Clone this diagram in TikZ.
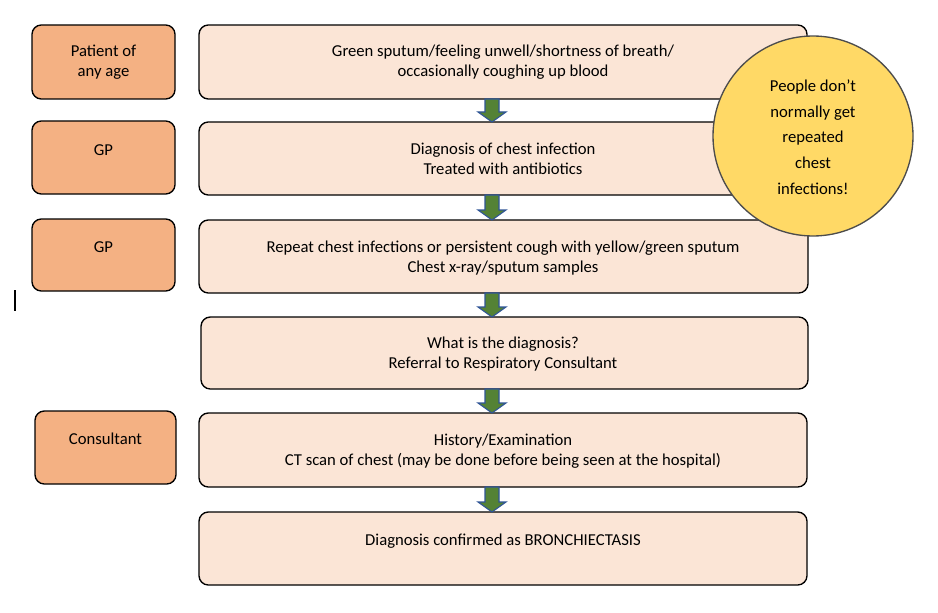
\documentclass[tikz,border=0pt]{standalone}
\usepackage{fontspec}
\setmainfont{Carlito}
\begin{document}
\begin{tikzpicture}[x=0.75pt,y=-0.75pt,
  main/.style={draw=black,line width=1pt,fill=mainfill,rounded corners=7pt},
  side/.style={draw=black,line width=1pt,fill=sidefill,rounded corners=7pt},
  txt/.style={font=\fontsize{12.5}{15}\selectfont,align=center,inner sep=0pt},
  barr/.style={fill=arrgreen,draw=arrblue,line width=0.8pt}]
\definecolor{mainfill}{HTML}{FBE5D6}
\definecolor{sidefill}{HTML}{F4B183}
\definecolor{arrgreen}{HTML}{548235}
\definecolor{arrblue}{HTML}{2F5597}
\definecolor{circfill}{HTML}{FFD966}
\useasboundingbox (0,0) rectangle (938,613);
% side boxes
\draw[side] (32,25) rectangle (175,99);
\node[txt] (s1) at (103.5,62) {Patient of\\any age};
\draw[side] (32,121) rectangle (175,194);
\node[txt] (s2) at (103.5,150) {GP};
\draw[side] (32,219) rectangle (175,291);
\node[txt] (s3) at (103.5,247) {GP};
\draw[side] (35,411) rectangle (176,484);
\node[txt] (s4) at (105.5,439) {Consultant};
% main boxes
\draw[main] (199,25) rectangle (807,99);
\node[txt] (m1) at (503,62.5) {Green sputum/feeling unwell/shortness of breath/\\occasionally coughing up blood};
\draw[main] (199,122) rectangle (807,195);
\node[txt] (m2) at (503,159) {Diagnosis of chest infection\\Treated with antibiotics};
\draw[main] (199,220) rectangle (808,293);
\node[txt] (m3) at (503,258) {Repeat chest infections or persistent cough with yellow/green sputum\\Chest x-ray/sputum samples};
\draw[main] (201,317) rectangle (808,389);
\node[txt] (m4) at (503,354.5) {What is the diagnosis?\\Referral to Respiratory Consultant};
\draw[main] (199,413) rectangle (807,487);
\node[txt] (m5) at (503,451.5) {History/Examination\\CT scan of chest (may be done before being seen at the hospital)};
\draw[main] (199,512) rectangle (807,585);
\node[txt] (m6) at (503,541) {Diagnosis confirmed as BRONCHIECTASIS};
% block arrows
\foreach \a/\b in {99/122,195/220,293/317,389/413,487/512}{
  \draw[barr] (485,\a) -- (499,\a) -- (499,\b-10) -- (506,\b-10) -- (492,\b) -- (478,\b-10) -- (485,\b-10) -- cycle;
}
% circle
\draw[fill=circfill,draw=black!70,line width=1pt] (813,136) circle (100);
\node[txt,font=\fontsize{12.5}{19.2}\selectfont] (c) at (813,137) {People don’t\\normally get\\repeated\\chest\\infections!};
% stray mark
\draw[line width=0.8pt] (15,290) -- (15,311);
\end{tikzpicture}
\end{document}
